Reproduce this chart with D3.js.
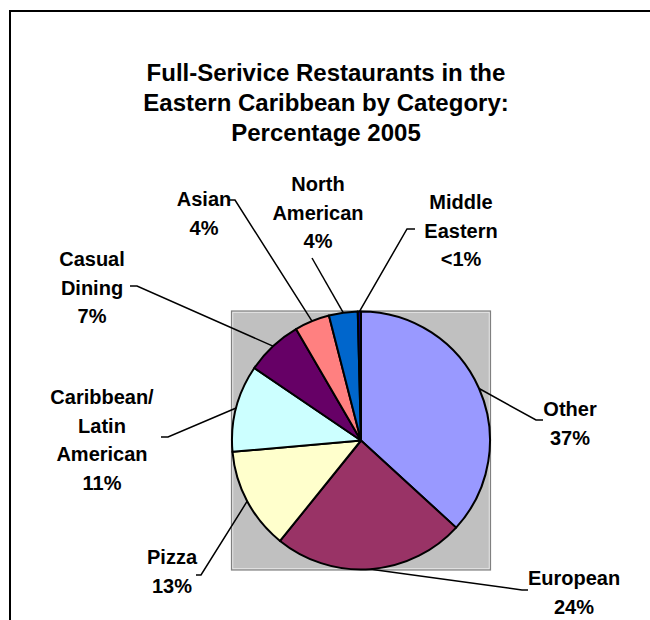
<!DOCTYPE html>
<html>
<head>
<meta charset="utf-8">
<script src="https://cdn.jsdelivr.net/npm/d3@7"></script>
<style>
  body { margin: 0; background: #fff; }
  text { font-family: "Liberation Sans", Arial, sans-serif; font-weight: bold; fill: #000; }
</style>
</head>
<body>
<svg id="chart" width="650" height="620"></svg>
<script>
// Restaurant categories, clockwise from 12 o'clock
const categories = ["Other", "European", "Pizza", "Caribbean/Latin American",
                    "Casual Dining", "Asian", "North American", "Middle Eastern"];
// How each category name breaks over lines in its label
const labelLines = [["Other"], ["European"], ["Pizza"], ["Caribbean/", "Latin", "American"],
                    ["Casual", "Dining"], ["Asian"], ["North", "American"], ["Middle", "Eastern"]];
// Share of full-service restaurants, percent
const shares = [36.8, 24.0, 12.8, 10.9, 7.1, 4.4, 3.6, 0.4];
const sliceColors = ["#9999FF", "#993366", "#FFFFCC", "#CCFFFF",
                     "#660066", "#FF8080", "#0066CC", "#000080"];
const titleLines = ["Full-Serivice Restaurants in the",
                    "Eastern Caribbean by Category:",
                    "Percentage 2005"];

// Label placement: text centre, centre of first line, leader elbow and leader end
const labelLayout = [
  { x: 570, y: 409, ex: 536, ey: 420, tx: 543 },
  { x: 574, y: 578, ex: 522, ey: 590, tx: 528 },
  { x: 172, y: 557, ex: 201, ey: 575, tx: 196 },
  { x: 102, y: 397, ex: 168, ey: 437, tx: 161 },
  { x: 92,  y: 259, ex: 137, ey: 286, tx: 130 },
  { x: 204, y: 199, ex: 235, ey: 200, tx: 229 },
  { x: 318, y: 184, ex: 312, ey: 258, tx: 312 },
  { x: 461, y: 202, ex: 407, ey: 229, tx: 415 }
];

const fmtShare = v => (v < 1 ? "<1" : d3.format(".0f")(v)) + "%";

const svg = d3.select("#chart");

// chart frame (runs past the right and bottom of the view)
svg.append("path")
  .attr("d", "M10,640V11H660")
  .attr("fill", "none")
  .attr("stroke", "#000")
  .attr("stroke-width", 2);

// title
svg.append("text")
  .attr("text-anchor", "middle")
  .attr("font-size", 24)
  .selectAll("tspan")
  .data(titleLines)
  .join("tspan")
  .attr("x", 326)
  .attr("y", (d, i) => 81 + i * 30)
  .text(d => d);

// plot area
const cx = 361, cy = 440.5, r = 129;
svg.append("rect")
  .attr("x", cx - r - 0.5).attr("y", cy - r - 0.5)
  .attr("width", 2 * r + 1).attr("height", 2 * r + 1)
  .attr("fill", "#C0C0C0")
  .attr("stroke", "#808080").attr("stroke-width", 1.2);
svg.append("rect")
  .attr("x", cx - r + 0.8).attr("y", cy - r + 0.8)
  .attr("width", 2 * r - 1.6).attr("height", 2 * r - 1.6)
  .attr("fill", "none")
  .attr("stroke", "#EDEDED").attr("stroke-width", 0.8);

const pie = d3.pie().sort(null).value(d => d)(shares);
const arc = d3.arc().innerRadius(0).outerRadius(r);
const edge = d3.arc().innerRadius(r).outerRadius(r);

const g = svg.append("g").attr("transform", `translate(${cx},${cy})`);
g.selectAll("path.slice")
  .data(pie)
  .join("path")
  .attr("class", "slice")
  .attr("d", arc)
  .attr("fill", (d, i) => sliceColors[i])
  .attr("stroke", "#000")
  .attr("stroke-width", 2)
  .attr("stroke-linejoin", "round");

// leader lines from the middle of each slice's rim to its label
svg.selectAll("path.leader")
  .data(pie)
  .join("path")
  .attr("class", "leader")
  .attr("fill", "none")
  .attr("stroke", "#000")
  .attr("stroke-width", 1.5)
  .attr("d", (d, i) => {
    const [px, py] = edge.centroid(d);
    const L = labelLayout[i];
    return `M${cx + px},${cy + py}L${L.ex},${L.ey}L${L.tx},${L.ey}`;
  });

// labels: category name and share
const labels = svg.selectAll("text.label")
  .data(pie)
  .join("text")
  .attr("class", "label")
  .attr("text-anchor", "middle")
  .attr("font-size", 20);
labels.selectAll("tspan")
  .data((d, i) => labelLines[i].concat([fmtShare(d.data)]).map(t => ({ t, i })))
  .join("tspan")
  .attr("x", d => labelLayout[d.i].x)
  .attr("y", (d, j) => labelLayout[d.i].y + 7 + j * 28.5)
  .text(d => d.t);
</script>
</body>
</html>
